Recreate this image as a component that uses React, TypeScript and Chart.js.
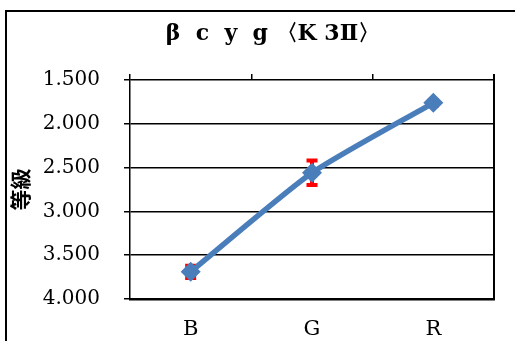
import React, { useEffect, useRef } from "react";
import { Chart, registerables } from "chart.js";

Chart.register(...registerables);

const categories = ["B", "G", "R"];
const magnitudes = [3.69, 2.56, 1.76];
const errors = [0.07, 0.14, 0.03];
const yMin = 1.5;
const yMax = 4.0;
const yStep = 0.5;
const titleText = "β  c  y  g 〈K 3Ⅱ〉";
const yTitle = "等級";

const SERIF = "'DejaVu Serif', serif";

const framePlugin = {
  id: "frame",
  afterDraw(chart: any) {
    const { ctx, chartArea } = chart;
    ctx.save();
    ctx.strokeStyle = "#000";
    ctx.lineWidth = 2;
    ctx.strokeRect(6, 11, 700, 700);
    ctx.lineWidth = 2;
    ctx.beginPath();
    ctx.moveTo(chartArea.right, chartArea.top - 6);
    ctx.lineTo(chartArea.right, chartArea.bottom);
    ctx.stroke();
    ctx.restore();
  },
};

const titlePlugin = {
  id: "customTitle",
  afterDraw(chart: any) {
    const { ctx } = chart;
    ctx.save();
    ctx.fillStyle = "#000";
    ctx.font = `bold 22px ${SERIF}`;
    ctx.textAlign = "center";
    ctx.textBaseline = "middle";
    ctx.fillText(titleText, 273, 34);
    ctx.restore();
  },
};

const errorBarPlugin = {
  id: "errorBars",
  beforeDatasetsDraw(chart: any) {
    const { ctx, scales } = chart;
    const x = scales.x;
    const y = scales.y;
    ctx.save();
    ctx.strokeStyle = "#ff0000";
    ctx.lineWidth = 4;
    magnitudes.forEach((v, i) => {
      const px = x.getPixelForValue(i);
      const top = y.getPixelForValue(v - errors[i]);
      const bot = y.getPixelForValue(v + errors[i]);
      ctx.beginPath();
      ctx.moveTo(px, top);
      ctx.lineTo(px, bot);
      ctx.moveTo(px - 5.5, top);
      ctx.lineTo(px + 5.5, top);
      ctx.moveTo(px - 5.5, bot);
      ctx.lineTo(px + 5.5, bot);
      ctx.stroke();
    });
    ctx.restore();
  },
};

export default function App() {
  const ref = useRef<HTMLCanvasElement | null>(null);

  useEffect(() => {
    if (!ref.current) return;
    const chart = new Chart(ref.current, {
      type: "line",
      data: {
        labels: categories,
        datasets: [
          {
            data: magnitudes,
            borderColor: "#4a7ebb",
            backgroundColor: "#4a7ebb",
            borderWidth: 5.5,
            pointStyle: "rectRot",
            pointRadius: 10,
            pointBackgroundColor: "#4a7ebb",
            pointBorderWidth: 0,
            tension: 0.2,
          },
        ],
      },
      options: {
        responsive: false,
        animation: false,
        layout: { padding: { left: 0, right: 21, top: 80, bottom: 0 } },
        plugins: {
          legend: { display: false },
          title: { display: false },
          tooltip: { enabled: false },
        },
        scales: {
          x: {
            type: "category",
            offset: true,
            grid: { display: false, drawTicks: false },
            border: { display: true, color: "#000", width: 2.5 },
            ticks: {
              color: "#000",
              font: { family: SERIF, size: 21 },
              padding: 18,
            },
            afterFit: (s: any) => {
              s.height = 42;
            },
          },
          x2: {
            type: "category",
            labels: categories,
            position: "top",
            offset: true,
            grid: {
              offset: true,
              drawOnChartArea: false,
              tickLength: 6,
              color: "#000",
              lineWidth: 1.5,
            },
            border: { display: false },
            ticks: { display: false },
            afterFit: (s: any) => {
              s.height = 0;
            },
          },
          y: {
            type: "linear",
            reverse: true,
            min: yMin,
            max: yMax,
            ticks: {
              stepSize: yStep,
              color: "#000",
              font: { family: SERIF, size: 20 },
              padding: 24,
              callback: (v: any) => Number(v).toFixed(3),
            },
            grid: { color: "#000", lineWidth: 1.5, tickLength: 6 },
            border: { display: true, color: "#000", width: 1.5 },
            title: {
              display: true,
              text: yTitle,
              color: "#000",
              font: { family: "'Noto Sans CJK JP'", size: 21, weight: "bold" },
              padding: { top: 7, bottom: 0 },
            },
            afterFit: (s: any) => {
              s.width = 130;
            },
          },
        },
      },
      plugins: [errorBarPlugin, framePlugin, titlePlugin],
    } as any);
    return () => chart.destroy();
  }, []);

  return (
    <div style={{ position: "fixed", left: 0, top: 0, width: 515, height: 341, background: "#fff" }}>
      <canvas ref={ref} width={515} height={341} style={{ display: "block" }} />
    </div>
  );
}
